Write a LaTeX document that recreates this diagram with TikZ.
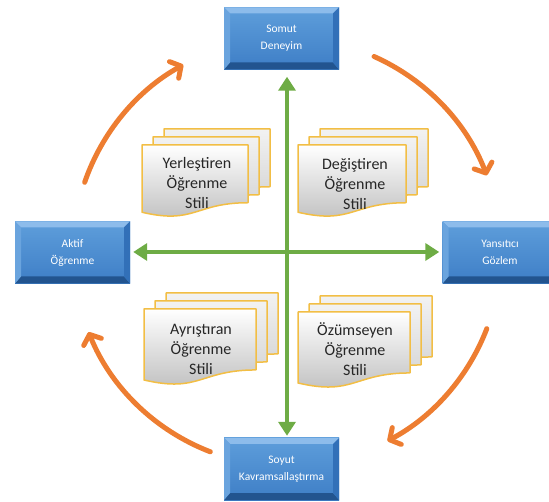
\documentclass[tikz,border=0pt]{standalone}
\usepackage{fontspec}
\newfontfamily\carl{Carlito}
\usetikzlibrary{arrows.meta}

\definecolor{facetop}{HTML}{5E9EDB}
\definecolor{facebot}{HTML}{3E7EC6}
\definecolor{bevtop}{HTML}{8DBCEB}
\definecolor{bevleft}{HTML}{6AA4DE}
\definecolor{bevright}{HTML}{3270B8}
\definecolor{bevbot}{HTML}{22548F}
\definecolor{axisgreen}{HTML}{6EAC45}
\definecolor{cycleorange}{HTML}{ED7D31}
\definecolor{pageedge}{HTML}{F2BE45}
\definecolor{pagetext}{HTML}{262626}

% A flow-chart "document" page, top-left corner at (#1,#2), width #3, height #4
\newcommand\stackpage[5]{%
  \begin{scope}[shift={(#1,#2)}]
    \path[#5] (0,0) -- (#3,0) -- (#3,0.802*#4)
      .. controls (0.5*#3,0.802*#4) and (0.5*#3,1.107*#4) .. (0,0.934*#4) -- cycle;
  \end{scope}}
% Three stacked pages, front page at (#1,#2)
\newcommand\pagestack[4]{%
  \stackpage{#1+22}{#2-16}{#3}{#4}{backpage}
  \stackpage{#1+11}{#2-8}{#3}{#4}{backpage}
  \stackpage{#1}{#2}{#3}{#4}{frontpage}}

\tikzset{
  bevelbox/.style={rectangle, minimum width=115pt, minimum height=62pt, inner sep=0pt,
    top color=facetop, bottom color=facebot, text=white, align=center,
    font=\carl\fontsize{11.5}{17}\selectfont,
    path picture={
      \coordinate (bNW) at (path picture bounding box.north west);
      \coordinate (bNE) at (path picture bounding box.north east);
      \coordinate (bSW) at (path picture bounding box.south west);
      \coordinate (bSE) at (path picture bounding box.south east);
      \fill[bevtop] (bNW) -- (bNE) -- ([shift={(-6pt,-6pt)}]bNE) -- ([shift={(6pt,-6pt)}]bNW) -- cycle;
      \fill[bevbot] (bSW) -- (bSE) -- ([shift={(-6pt,7pt)}]bSE) -- ([shift={(6pt,7pt)}]bSW) -- cycle;
      \fill[bevleft] (bNW) -- ([shift={(6pt,-6pt)}]bNW) -- ([shift={(6pt,7pt)}]bSW) -- (bSW) -- cycle;
      \fill[bevright] (bNE) -- ([shift={(-6pt,-6pt)}]bNE) -- ([shift={(-6pt,7pt)}]bSE) -- (bSE) -- cycle;
    }},
  frontpage/.style={top color=white, bottom color=black!26, draw=pageedge, line width=1.5pt, line join=round},
  backpage/.style={top color=black!5, bottom color=black!18, draw=pageedge, line width=1.5pt, line join=round},
  stacktext/.style={align=center, text=pagetext, font=\carl\fontsize{16}{20}\selectfont},
  axisarrow/.style={draw=axisgreen, line width=4.5pt, {Triangle[length=14pt,width=17pt]}-{Triangle[length=14pt,width=17pt]}},
  cyclearrow/.style={draw=cycleorange, line width=5pt, line cap=round,
    -{Straight Barb[length=8pt,width=19pt,line cap=round,line join=round]}}
}

\begin{document}
\begin{tikzpicture}[x=1pt, y=-1pt]
  \useasboundingbox (0,0) rectangle (549,502);

  % the four stages of the cycle
  \node[bevelbox] (somut) at (281.5,38.5) {Somut\\Deneyim};
  \node[bevelbox] (aktif) at (72.5,252.5) {Aktif\\Öğrenme};
  \node[bevelbox] (yansitici) at (500,252.5) {Yansıtıcı\\Gözlem};
  \node[bevelbox] (soyut) at (281.5,469) {Soyut\\Kavramsallaştırma};

  % crossing point of the two axes
  \coordinate (ax) at (287,252);
  \draw[axisarrow, shorten <=7pt, shorten >=2pt] (somut.south -| ax) -- (soyut.north -| ax);
  \draw[axisarrow, shorten <=3pt, shorten >=3pt] (aktif.east |- ax) -- (yansitici.west |- ax);

  % learning styles in the four quadrants
  \pagestack{142}{145}{106}{72}
  \pagestack{298}{145}{108}{72}
  \pagestack{144}{309}{112}{76}
  \pagestack{298}{312}{112}{76}
  \node[stacktext] (yerlestiren) at (197,183) {Yerleştiren\\Öğrenme\\Stili};
  \node[stacktext] (degistiren) at (355,184) {Değiştiren\\Öğrenme\\Stili};
  \node[stacktext] (ayristiran) at (201,349) {Ayrıştıran\\Öğrenme\\Stili};
  \node[stacktext] (ozumseyen) at (355,349) {Özümseyen\\Öğrenme\\Stili};

  % clockwise cycle arrows around the axes
  \draw[cyclearrow] (ax) ++(-66:214) arc[start angle=-66, end angle=-21, radius=214];
  \draw[cyclearrow] (ax) ++(21:214) arc[start angle=21, end angle=62, radius=214];
  \draw[cyclearrow] (ax) ++(111:214) arc[start angle=111, end angle=158, radius=214];
  \draw[cyclearrow] (ax) ++(-161:214) arc[start angle=-161, end angle=-119, radius=214];
\end{tikzpicture}
\end{document}
